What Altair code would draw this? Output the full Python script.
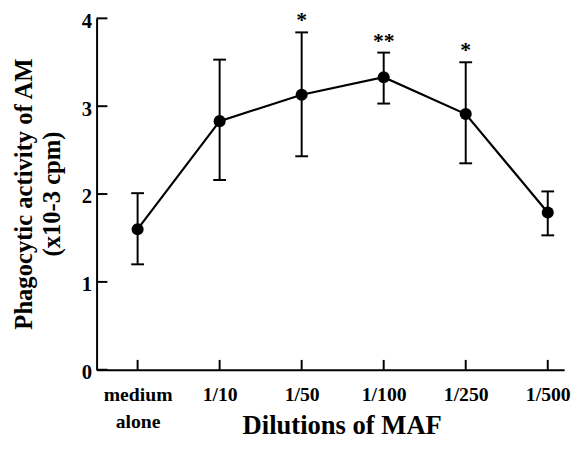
import altair as alt
import pandas as pd

categories = ["medium|alone", "1/10", "1/50", "1/100", "1/250", "1/500"]
means = [1.60, 2.83, 3.13, 3.33, 2.91, 1.79]
upper = [2.01, 3.53, 3.84, 3.61, 3.50, 2.03]
lower = [1.20, 2.16, 2.43, 3.03, 2.35, 1.53]
stars = ["", "", "*", "**", "*", ""]
y_ticks = [0, 1, 2, 3, 4]
x_ticks = [0, 1, 2, 3, 4, 5]

FONT = "Liberation Serif"

df = pd.DataFrame({"i": list(range(len(categories))), "cat": categories,
                   "mean": means, "hi": upper, "lo": lower, "star": stars})
ydf = pd.DataFrame({"v": y_ticks})
xdf = pd.DataFrame({"v": x_ticks})

cat_list = "[" + ",".join("'" + c + "'" for c in categories) + "]"
label_expr = f"split({cat_list}[datum.value], '|')"

xscale = alt.Scale(domain=[-0.5, 5.2], nice=False, zero=False)
yscale = alt.Scale(domain=[0, 4], nice=False)

x_axis = alt.Axis(values=x_ticks, labelExpr=label_expr, ticks=False, grid=False,
                  domainColor="black", domainWidth=2, labelFont=FONT, labelFontSize=20,
                  labelFontWeight="bold", labelColor="black", labelPadding=15,
                  labelLineHeight=28, labelBaseline="top", labelFlush=False, labelOverlap=False,
                  title="Dilutions of MAF", titleFont=FONT, titleFontSize=27,
                  titleFontWeight="bold", titleColor="black", titleX=249, titleY=65,
                  titleBaseline="alphabetic", titleAnchor="middle", titleAlign="center")
y_axis = alt.Axis(values=y_ticks, ticks=False, grid=False, domainColor="black", domainWidth=2,
                  labelFont=FONT, labelFontSize=21, labelFontWeight="bold", labelColor="black",
                  labelPadding=5, labelOffset=3, format="d",
                  title=["Phagocytic activity of AM", "(x10-3 cpm)"], titleFont=FONT,
                  titleFontSize=25, titleFontWeight="bold", titleColor="black",
                  titleLineHeight=28, titleX=-74, titleY=178, titleBaseline="middle",
                  titleAngle=-90, titleAlign="center")


def X(f):
    return alt.X(f, scale=xscale, axis=x_axis)


def Y(f):
    return alt.Y(f, scale=yscale, axis=y_axis)


base = alt.Chart(df)

line = base.mark_line(color="black", strokeWidth=2.2).encode(x=X("i:Q"), y=Y("mean:Q"))
pts = base.mark_circle(color="black", opacity=1, size=150).encode(x=X("i:Q"), y=Y("mean:Q"))
err = base.mark_rule(color="black", strokeWidth=2).encode(x=X("i:Q"), y=Y("lo:Q"), y2="hi:Q")
cap_hi = base.mark_tick(color="black", thickness=2, size=13, orient="horizontal",
                        opacity=1).encode(x=X("i:Q"), y=Y("hi:Q"))
cap_lo = base.mark_tick(color="black", thickness=2, size=13, orient="horizontal",
                        opacity=1).encode(x=X("i:Q"), y=Y("lo:Q"))
star_txt = base.mark_text(font=FONT, fontSize=22, fontWeight="bold", color="black",
                          baseline="alphabetic", align="center", dy=-5).encode(
    x=X("i:Q"), y=Y("hi:Q"), text="star:N")
yt = alt.Chart(ydf).mark_rule(color="black", strokeWidth=2).encode(
    y=Y("v:Q"), x=alt.value(0), x2=alt.value(11),
)
xt = alt.Chart(xdf).mark_rule(color="black", strokeWidth=2).encode(
    x=X("v:Q"), y=alt.value(357), y2=alt.value(347),
)

chart = alt.layer(line, err, cap_hi, cap_lo, pts, star_txt, yt, xt).properties(
    width=475, height=357,
    autosize=alt.AutoSizeParams(type="none"),
    padding={"left": 90, "top": 7, "right": 10, "bottom": 77},
    background="white",
).configure_view(stroke=None)

chart.save("out.html", embed_options={"renderer": "svg", "actions": False})
